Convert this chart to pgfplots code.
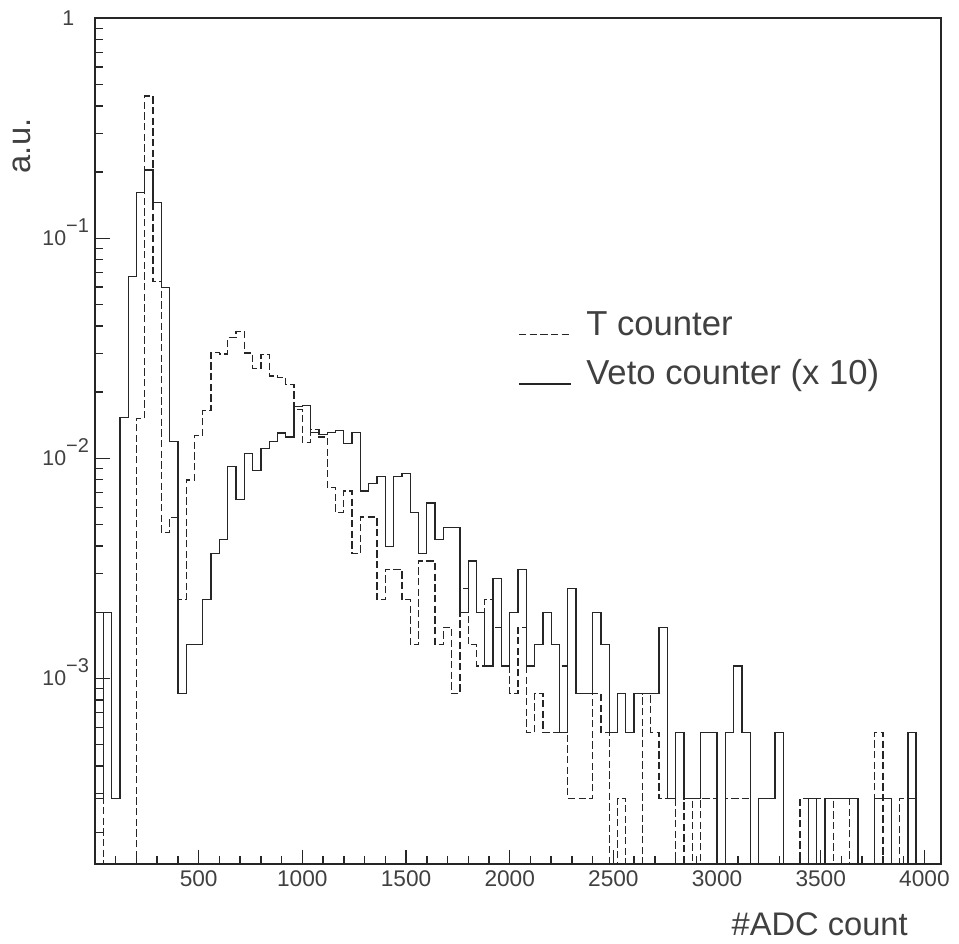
\documentclass[border=0pt]{standalone}
\usepackage{pgfplots}
\pgfplotsset{compat=1.18}
\usepackage{pgfplotstable}
\usepackage{fontspec}
\setmainfont{Liberation Sans}
\definecolor{txt}{gray}{0.25}

\pgfplotstableread{
x y
0 2.847e-4
40 1.993e-3
80 2.847e-4
120 1.535e-2
160 6.690e-2
200 0.1611
240 0.2044
280 0.1458
320 5.979e-2
360 1.190e-2
400 8.541e-4
440 1.424e-3
480 1.424e-3
520 2.278e-3
560 3.701e-3
600 4.271e-3
640 9.167e-3
680 6.520e-3
720 1.053e-2
760 8.826e-3
800 1.110e-2
840 1.190e-2
880 1.307e-2
920 1.253e-2
960 1.720e-2
1000 1.737e-2
1040 1.310e-2
1080 1.281e-2
1120 1.310e-2
1160 1.338e-2
1200 1.167e-2
1240 1.310e-2
1280 7.118e-3
1320 7.687e-3
1360 8.256e-3
1400 3.986e-3
1440 8.256e-3
1480 8.541e-3
1520 5.694e-3
1560 3.701e-3
1600 6.263e-3
1640 4.271e-3
1680 4.840e-3
1720 4.840e-3
1760 1.993e-3
1800 3.416e-3
1840 1.993e-3
1880 1.139e-3
1920 2.847e-3
1960 1.139e-3
2000 1.993e-3
2040 3.132e-3
2080 1.139e-3
2120 1.424e-3
2160 1.993e-3
2200 1.424e-3
2240 5.694e-4
2280 2.562e-3
2320 8.541e-4
2360 8.541e-4
2400 1.993e-3
2440 1.424e-3
2480 5.694e-4
2520 8.541e-4
2560 5.694e-4
2600 8.541e-4
2640 8.541e-4
2680 8.541e-4
2720 1.708e-3
2760 2.847e-4
2800 5.694e-4
2840 2.847e-4
2880 2.847e-4
2920 5.694e-4
2960 5.694e-4
3000 1e-6
3040 5.694e-4
3080 1.139e-3
3120 5.694e-4
3160 1e-6
3200 2.847e-4
3240 2.847e-4
3280 5.694e-4
3320 1e-6
3360 1e-6
3400 1e-6
3440 2.847e-4
3480 1e-6
3520 2.847e-4
3560 2.847e-4
3600 2.847e-4
3640 2.847e-4
3680 1e-6
3720 1e-6
3760 2.847e-4
3800 2.847e-4
3840 1e-6
3880 1e-6
3920 5.694e-4
3960 1e-6
4000 1e-6
4040 1e-6
4080 1e-6
}\veto

\pgfplotstableread{
x y
0 1.993e-3
40 1e-6
80 1e-6
120 1e-6
160 1e-6
200 1.520e-2
240 0.4433
280 6.349e-2
320 4.612e-3
360 5.381e-3
400 2.278e-3
440 7.972e-3
480 1.275e-2
520 1.657e-2
560 3.032e-2
600 2.978e-2
640 3.547e-2
680 3.787e-2
720 3.018e-2
760 2.562e-2
800 2.975e-2
840 2.372e-2
880 2.335e-2
920 2.169e-2
960 1.665e-2
1000 1.179e-2
1040 1.355e-2
1080 1.253e-2
1120 7.374e-3
1160 5.694e-3
1200 7.118e-3
1240 3.701e-3
1280 5.409e-3
1320 5.409e-3
1360 2.278e-3
1400 3.132e-3
1440 3.132e-3
1480 2.278e-3
1520 1.424e-3
1560 3.416e-3
1600 3.416e-3
1640 1.424e-3
1680 1.708e-3
1720 8.541e-4
1760 2.562e-3
1800 1.424e-3
1840 1.139e-3
1880 2.278e-3
1920 1.708e-3
1960 1.139e-3
2000 8.541e-4
2040 1.708e-3
2080 5.694e-4
2120 8.541e-4
2160 5.694e-4
2200 5.694e-4
2240 1.139e-3
2280 2.847e-4
2320 2.847e-4
2360 2.847e-4
2400 8.541e-4
2440 5.694e-4
2480 1e-6
2520 2.847e-4
2560 1e-6
2600 1e-6
2640 8.541e-4
2680 5.694e-4
2720 2.847e-4
2760 2.847e-4
2800 1e-6
2840 2.847e-4
2880 1e-6
2920 2.847e-4
2960 2.847e-4
3000 1e-6
3040 2.847e-4
3080 2.847e-4
3120 2.847e-4
3160 1e-6
3200 1e-6
3240 1e-6
3280 1e-6
3320 1e-6
3360 1e-6
3400 2.847e-4
3440 2.847e-4
3480 2.847e-4
3520 2.847e-4
3560 1e-6
3600 1e-6
3640 2.847e-4
3680 1e-6
3720 1e-6
3760 5.694e-4
3800 1e-6
3840 1e-6
3880 2.847e-4
3920 2.847e-4
3960 1e-6
4000 1e-6
4040 1e-6
4080 1e-6
}\tcount

\newcommand{\pw}[1]{10\raisebox{0.64em}[0pt][0pt]{\fontsize{15}{15}\selectfont −#1}}

\begin{document}
\begin{tikzpicture}
\useasboundingbox (0,0) rectangle (719.25pt,707.25pt);
\begin{axis}[
  at={(71.25pt,59pt)}, anchor=south west,
  scale only axis, width=634.5pt, height=634.5pt,
  ymode=log, xmin=0, xmax=4080, ymin=1.43e-4, ymax=1,
  axis line style={line width=1.4pt, black!85},
  every tick/.style={line width=1.1pt, black!85},
  tick align=inside,
  xtick pos=bottom, ytick pos=left,
  xtick={500,1000,...,4000},
  minor xtick={100,200,...,4000},
  ytick={1e-3,1e-2,1e-1,1},
  minor ytick={2e-4,3e-4,4e-4,5e-4,6e-4,7e-4,8e-4,9e-4,
               2e-3,3e-3,4e-3,5e-3,6e-3,7e-3,8e-3,9e-3,
               2e-2,3e-2,4e-2,5e-2,6e-2,7e-2,8e-2,9e-2,
               0.2,0.3,0.4,0.5,0.6,0.7,0.8,0.9},
  yticklabels={{\pw{3}},{\pw{2}},{\pw{1}},{1\hspace*{11pt}}},
  major tick length=11pt, minor tick length=6pt,
  /pgf/number format/assume math mode=true,
  /pgf/number format/1000 sep={},
  tick label style={text=txt},
  xticklabel style={font=\fontsize{17}{17}\selectfont, yshift=-1.5pt},
  yticklabel style={font=\fontsize{16}{16}\selectfont, xshift=-1pt},
  legend style={at={(0.5,0.6556)}, anchor=north west, draw=none, fill=none,
    inner sep=0pt, row sep=12pt, column sep=0pt,
    font=\fontsize{26}{26}\selectfont,
    nodes={inner sep=0pt, text height=19pt, text depth=6pt, text=txt}},
  legend cell align=left,
  legend image code/.code={\draw[#1] (0pt,-6pt) -- (39pt,-6pt);},
]
\addplot[const plot, black!85, line width=1pt, dash pattern=on 5.5pt off 2.5pt] table[x=x,y=y] {\tcount};
\addlegendentry{\hspace{11pt}T counter}
\addplot[const plot, black!85, line width=1pt] table[x=x,y=y] {\veto};
\addlegendentry{\hspace{11pt}Veto counter (x 10)}
\end{axis}
\node[rotate=90, font=\fontsize{24.5}{24.5}\selectfont, text=txt] at (16.5pt,597.75pt) {a.u.};
\node[anchor=base east, font=\fontsize{24.5}{24.5}\selectfont, text=txt, inner sep=0pt] at (681pt,6pt) {\#ADC count};
\end{tikzpicture}
\end{document}
